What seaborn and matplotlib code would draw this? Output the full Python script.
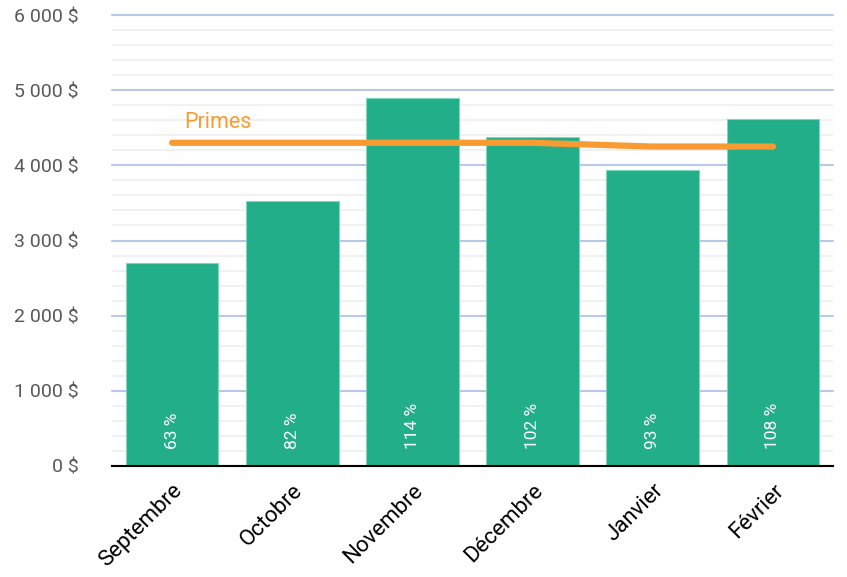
import numpy as np
import pandas as pd
import seaborn as sns
import matplotlib.pyplot as plt
from matplotlib.ticker import MultipleLocator, FuncFormatter

# Données
mois = ["Septembre", "Octobre", "Novembre", "Décembre", "Janvier", "Février"]
ventes = [2700, 3525, 4900, 4375, 3940, 4610]
primes = [4300, 4300, 4300, 4300, 4250, 4250]
pourcentages = [63, 82, 114, 102, 93, 108]

VERT = "#23AE8A"
ORANGE = "#F89B33"

df = pd.DataFrame({"mois": mois, "ventes": ventes, "primes": primes})

sns.set_theme(style="white")
plt.rcParams["font.family"] = ["Roboto", "DejaVu Sans"]

fig = plt.figure(figsize=(8.47, 5.77), dpi=100)
ax = fig.add_axes([112 / 847, 1 - 466 / 577, 721 / 847, 451 / 577])

sns.barplot(data=df, x="mois", y="ventes", color=VERT, width=0.77,
            saturation=1, ax=ax, zorder=3)
for p in ax.patches:
    p.set_edgecolor("#7fd6bd")
    p.set_linewidth(0.8)

# Ligne des primes
sns.lineplot(x=np.arange(len(mois)), y=primes, color=ORANGE, linewidth=4.5,
             ax=ax, zorder=4, solid_capstyle="round")
ax.text(0.1, 4430, "Primes", color=ORANGE, fontsize=15.5, ha="left",
        va="bottom", zorder=5)

# Pourcentages dans les barres
for i, pct in enumerate(pourcentages):
    ax.text(i, 230, f"{pct} %", color="white", fontsize=12.5, rotation=90,
            ha="center", va="bottom", zorder=5)

ax.set_ylim(0, 6000)
ax.set_xlim(-0.5, len(mois) - 0.5)
ax.yaxis.set_major_locator(MultipleLocator(1000))
ax.yaxis.set_minor_locator(MultipleLocator(200))
ax.yaxis.set_major_formatter(FuncFormatter(lambda v, _: f"{int(v):,} $".replace(",", " ")))
ax.grid(axis="y", which="major", color="#B7C9E6", linewidth=1.5, zorder=1)
ax.grid(axis="y", which="minor", color="#EFEFEF", linewidth=1.2, zorder=0)
ax.set_axisbelow(True)
for gl in ax.yaxis.get_gridlines():
    gl.set_clip_on(False)

ax.tick_params(axis="y", which="both", length=0, labelsize=14,
               labelcolor="#595959", pad=24)
ax.tick_params(axis="x", length=0, labelsize=16, labelcolor="black", pad=10)
plt.setp(ax.get_xticklabels(), rotation=45, ha="right", rotation_mode="anchor")

for s in ["top", "right", "left"]:
    ax.spines[s].set_visible(False)
ax.spines["bottom"].set_color("black")
ax.spines["bottom"].set_linewidth(1.5)
ax.spines["bottom"].set_zorder(6)
ax.set_xlabel("")
ax.set_ylabel("")

fig.savefig("out.png", dpi=100)
